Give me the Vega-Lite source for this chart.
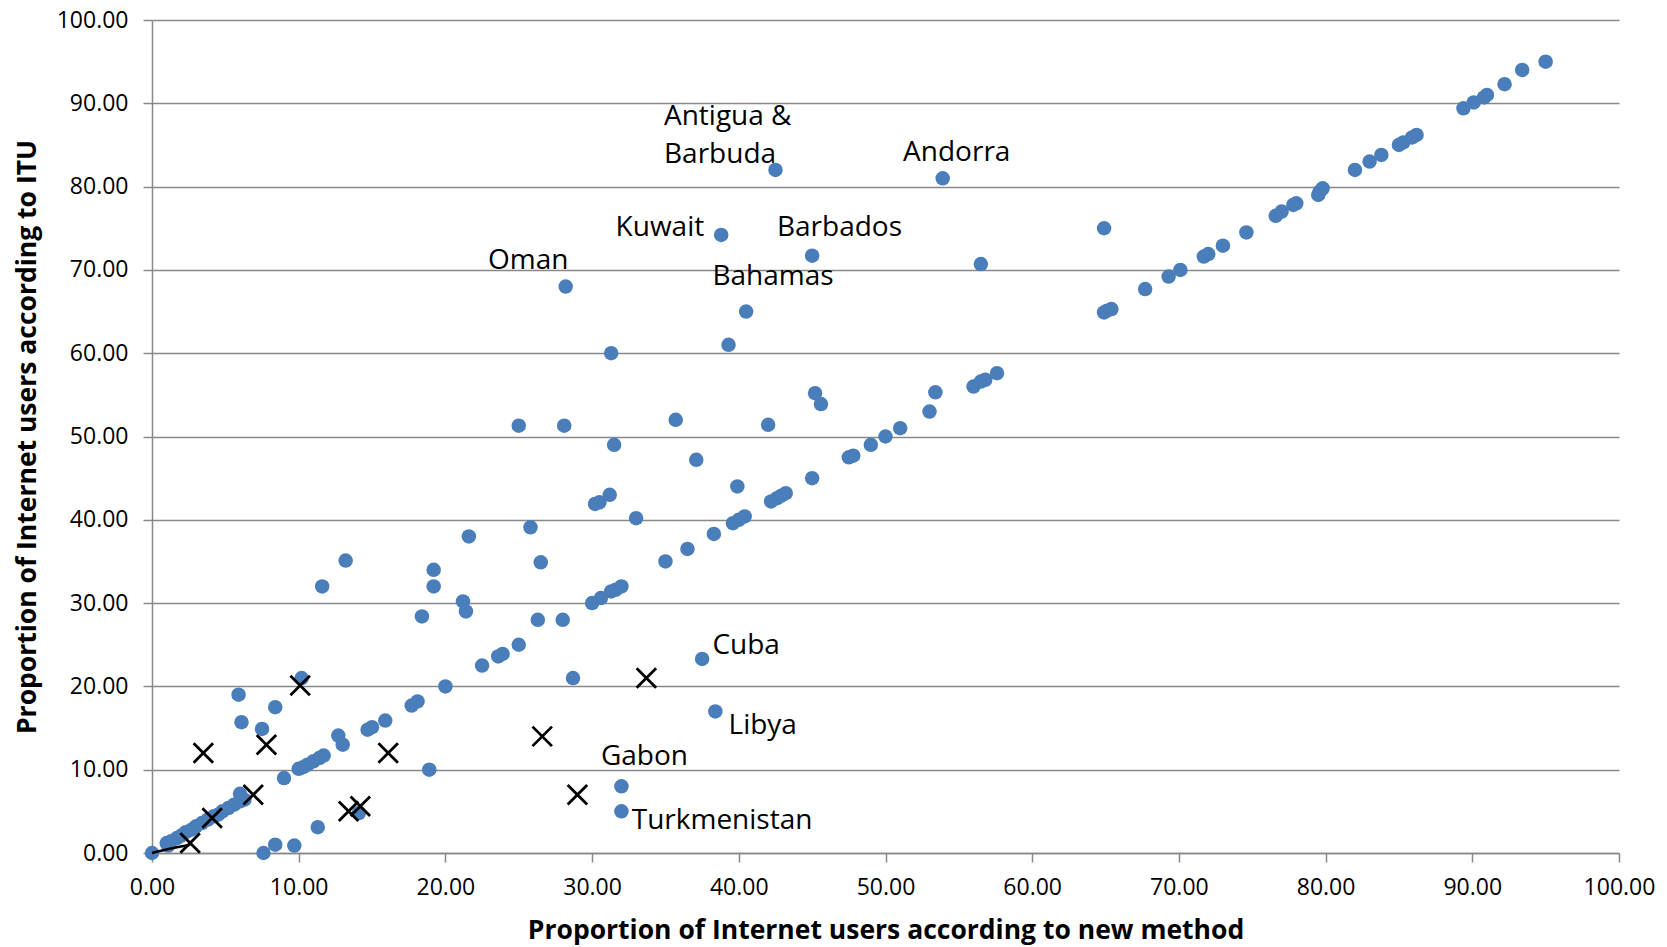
{
  "$schema": "https://vega.github.io/schema/vega-lite/v6.json",
  "width": 1467,
  "height": 833,
  "autosize": {"type": "none"},
  "padding": {"left": 152, "top": 20, "right": 48, "bottom": 94},
  "background": "white",
  "config": {
    "view": {"stroke": null},
    "font": "Open Sans",
    "axis": {
      "labelFont": "Open Sans",
      "labelFontSize": 23,
      "labelColor": "#000000",
      "titleFont": "Open Sans",
      "titleFontSize": 26.5,
      "titleFontWeight": "bold",
      "titleColor": "#000000",
      "domainColor": "#898989",
      "domainWidth": 1.5,
      "tickColor": "#898989",
      "tickWidth": 1.5,
      "tickSize": 9,
      "gridColor": "#898989",
      "gridWidth": 1.5,
      "labelOverlap": false,
      "labelFlush": false
    }
  },
  "datasets": {
    "points": [
      {"x": 95.0, "y": 95.0, "s": "c"},
      {"x": 93.4, "y": 94.0, "s": "c"},
      {"x": 92.2, "y": 92.3, "s": "c"},
      {"x": 91.0, "y": 91.0, "s": "c"},
      {"x": 90.8, "y": 90.7, "s": "c"},
      {"x": 90.1, "y": 90.1, "s": "c"},
      {"x": 89.4, "y": 89.4, "s": "c"},
      {"x": 86.2, "y": 86.2, "s": "c"},
      {"x": 85.9, "y": 85.9, "s": "c"},
      {"x": 85.3, "y": 85.3, "s": "c"},
      {"x": 85.0, "y": 85.0, "s": "c"},
      {"x": 83.8, "y": 83.8, "s": "c"},
      {"x": 83.0, "y": 83.0, "s": "c"},
      {"x": 82.0, "y": 82.0, "s": "c"},
      {"x": 79.8, "y": 79.8, "s": "c"},
      {"x": 79.5, "y": 79.0, "s": "c"},
      {"x": 79.6, "y": 79.4, "s": "c"},
      {"x": 78.0, "y": 78.0, "s": "c"},
      {"x": 77.8, "y": 77.8, "s": "c"},
      {"x": 77.0, "y": 77.0, "s": "c"},
      {"x": 76.6, "y": 76.5, "s": "c"},
      {"x": 74.6, "y": 74.5, "s": "c"},
      {"x": 73.0, "y": 72.9, "s": "c"},
      {"x": 72.0, "y": 71.9, "s": "c"},
      {"x": 71.7, "y": 71.6, "s": "c"},
      {"x": 70.1, "y": 70.0, "s": "c"},
      {"x": 69.3, "y": 69.2, "s": "c"},
      {"x": 67.7, "y": 67.7, "s": "c"},
      {"x": 65.4, "y": 65.3, "s": "c"},
      {"x": 65.1, "y": 65.1, "s": "c"},
      {"x": 64.9, "y": 64.9, "s": "c"},
      {"x": 64.9, "y": 75.0, "s": "c"},
      {"x": 56.5, "y": 70.7, "s": "c"},
      {"x": 57.6, "y": 57.6, "s": "c"},
      {"x": 56.8, "y": 56.8, "s": "c"},
      {"x": 56.5, "y": 56.6, "s": "c"},
      {"x": 56.0, "y": 56.0, "s": "c"},
      {"x": 53.4, "y": 55.3, "s": "c"},
      {"x": 53.0, "y": 53.0, "s": "c"},
      {"x": 51.0, "y": 51.0, "s": "c"},
      {"x": 50.0, "y": 50.0, "s": "c"},
      {"x": 49.0, "y": 49.0, "s": "c"},
      {"x": 47.8, "y": 47.7, "s": "c"},
      {"x": 47.5, "y": 47.5, "s": "c"},
      {"x": 45.0, "y": 45.0, "s": "c"},
      {"x": 43.2, "y": 43.2, "s": "c"},
      {"x": 42.9, "y": 42.9, "s": "c"},
      {"x": 42.6, "y": 42.6, "s": "c"},
      {"x": 42.2, "y": 42.2, "s": "c"},
      {"x": 40.4, "y": 40.4, "s": "c"},
      {"x": 40.0, "y": 40.0, "s": "c"},
      {"x": 39.6, "y": 39.6, "s": "c"},
      {"x": 38.3, "y": 38.3, "s": "c"},
      {"x": 36.5, "y": 36.5, "s": "c"},
      {"x": 35.0, "y": 35.0, "s": "c"},
      {"x": 32.0, "y": 32.0, "s": "c"},
      {"x": 31.6, "y": 31.6, "s": "c"},
      {"x": 31.3, "y": 31.4, "s": "c"},
      {"x": 30.6, "y": 30.6, "s": "c"},
      {"x": 30.0, "y": 30.0, "s": "c"},
      {"x": 28.0, "y": 28.0, "s": "c"},
      {"x": 26.3, "y": 28.0, "s": "c"},
      {"x": 25.0, "y": 25.0, "s": "c"},
      {"x": 23.9, "y": 23.9, "s": "c"},
      {"x": 23.6, "y": 23.6, "s": "c"},
      {"x": 22.5, "y": 22.5, "s": "c"},
      {"x": 20.0, "y": 20.0, "s": "c"},
      {"x": 18.1, "y": 18.2, "s": "c"},
      {"x": 17.7, "y": 17.7, "s": "c"},
      {"x": 15.9, "y": 15.9, "s": "c"},
      {"x": 15.0, "y": 15.1, "s": "c"},
      {"x": 14.7, "y": 14.8, "s": "c"},
      {"x": 13.0, "y": 13.0, "s": "c"},
      {"x": 12.7, "y": 14.1, "s": "c"},
      {"x": 11.7, "y": 11.7, "s": "c"},
      {"x": 11.4, "y": 11.4, "s": "c"},
      {"x": 11.0, "y": 11.0, "s": "c"},
      {"x": 10.6, "y": 10.6, "s": "c"},
      {"x": 10.3, "y": 10.3, "s": "c"},
      {"x": 10.0, "y": 10.1, "s": "c"},
      {"x": 9.0, "y": 9.0, "s": "c"},
      {"x": 6.3, "y": 6.4, "s": "c"},
      {"x": 6.0, "y": 7.1, "s": "c"},
      {"x": 6.0, "y": 6.2, "s": "c"},
      {"x": 5.6, "y": 5.8, "s": "c"},
      {"x": 5.2, "y": 5.4, "s": "c"},
      {"x": 4.8, "y": 5.0, "s": "c"},
      {"x": 4.5, "y": 4.6, "s": "c"},
      {"x": 4.2, "y": 4.4, "s": "c"},
      {"x": 3.8, "y": 4.0, "s": "c"},
      {"x": 3.4, "y": 3.6, "s": "c"},
      {"x": 3.0, "y": 3.2, "s": "c"},
      {"x": 2.7, "y": 2.8, "s": "c"},
      {"x": 2.3, "y": 2.5, "s": "c"},
      {"x": 2.0, "y": 2.1, "s": "c"},
      {"x": 1.7, "y": 1.8, "s": "c"},
      {"x": 1.3, "y": 1.4, "s": "c"},
      {"x": 1.0, "y": 1.2, "s": "c"},
      {"x": 1.1, "y": 0.9, "s": "c"},
      {"x": 0.0, "y": 0.0, "s": "c"},
      {"x": 42.5, "y": 82.0, "s": "c"},
      {"x": 53.9, "y": 81.0, "s": "c"},
      {"x": 38.8, "y": 74.2, "s": "c"},
      {"x": 45.0, "y": 71.7, "s": "c"},
      {"x": 28.2, "y": 68.0, "s": "c"},
      {"x": 40.5, "y": 65.0, "s": "c"},
      {"x": 39.3, "y": 61.0, "s": "c"},
      {"x": 31.3, "y": 60.0, "s": "c"},
      {"x": 25.0, "y": 51.3, "s": "c"},
      {"x": 28.1, "y": 51.3, "s": "c"},
      {"x": 35.7, "y": 52.0, "s": "c"},
      {"x": 42.0, "y": 51.4, "s": "c"},
      {"x": 45.2, "y": 55.2, "s": "c"},
      {"x": 45.6, "y": 53.9, "s": "c"},
      {"x": 37.1, "y": 47.2, "s": "c"},
      {"x": 31.5, "y": 49.0, "s": "c"},
      {"x": 39.9, "y": 44.0, "s": "c"},
      {"x": 31.2, "y": 43.0, "s": "c"},
      {"x": 30.5, "y": 42.1, "s": "c"},
      {"x": 30.2, "y": 41.9, "s": "c"},
      {"x": 33.0, "y": 40.2, "s": "c"},
      {"x": 25.8, "y": 39.1, "s": "c"},
      {"x": 21.6, "y": 38.0, "s": "c"},
      {"x": 26.5, "y": 34.9, "s": "c"},
      {"x": 13.2, "y": 35.1, "s": "c"},
      {"x": 19.2, "y": 34.0, "s": "c"},
      {"x": 19.2, "y": 32.0, "s": "c"},
      {"x": 11.6, "y": 32.0, "s": "c"},
      {"x": 21.2, "y": 30.2, "s": "c"},
      {"x": 21.4, "y": 29.0, "s": "c"},
      {"x": 18.4, "y": 28.4, "s": "c"},
      {"x": 28.7, "y": 21.0, "s": "c"},
      {"x": 37.5, "y": 23.3, "s": "c"},
      {"x": 38.4, "y": 17.0, "s": "c"},
      {"x": 32.0, "y": 8.0, "s": "c"},
      {"x": 32.0, "y": 5.0, "s": "c"},
      {"x": 18.9, "y": 10.0, "s": "c"},
      {"x": 10.2, "y": 21.0, "s": "c"},
      {"x": 5.9, "y": 19.0, "s": "c"},
      {"x": 8.4, "y": 17.5, "s": "c"},
      {"x": 6.1, "y": 15.7, "s": "c"},
      {"x": 7.5, "y": 14.9, "s": "c"},
      {"x": 11.3, "y": 3.1, "s": "c"},
      {"x": 7.6, "y": 0.0, "s": "c"},
      {"x": 8.4, "y": 1.0, "s": "c"},
      {"x": 9.7, "y": 0.9, "s": "c"},
      {"x": 14.1, "y": 4.8, "s": "c"},
      {"x": 2.6, "y": 1.2, "s": "x"},
      {"x": 4.1, "y": 4.2, "s": "x"},
      {"x": 3.5, "y": 12.0, "s": "x"},
      {"x": 6.9, "y": 7.0, "s": "x"},
      {"x": 7.8, "y": 13.0, "s": "x"},
      {"x": 10.1, "y": 20.1, "s": "x"},
      {"x": 16.1, "y": 12.0, "s": "x"},
      {"x": 13.4, "y": 5.0, "s": "x"},
      {"x": 14.2, "y": 5.6, "s": "x"},
      {"x": 26.6, "y": 14.0, "s": "x"},
      {"x": 29.0, "y": 7.0, "s": "x"},
      {"x": 33.7, "y": 21.0, "s": "x"}
    ],
    "segment": [
      {"x": 0.0, "y": 0.0},
      {"x": 1.2, "y": 0.5},
      {"x": 2.6, "y": 1.0}
    ],
    "labels": [
      {"label": "Antigua &", "lx": 34.9, "ly": 88.4},
      {"label": "Barbuda", "lx": 34.9, "ly": 83.8},
      {"label": "Andorra", "lx": 51.2, "ly": 84.0},
      {"label": "Kuwait", "lx": 31.6, "ly": 75.0},
      {"label": "Barbados", "lx": 42.6, "ly": 75.0},
      {"label": "Oman", "lx": 22.9, "ly": 71.1},
      {"label": "Bahamas", "lx": 38.2, "ly": 69.1},
      {"label": "Cuba", "lx": 38.2, "ly": 24.9},
      {"label": "Libya", "lx": 39.3, "ly": 15.3},
      {"label": "Gabon", "lx": 30.6, "ly": 11.5},
      {"label": "Turkmenistan", "lx": 32.7, "ly": 3.8}
    ]
  },
  "layer": [
    {
      "data": {"name": "points"},
      "transform": [{"filter": "datum.s === 'c'"}],
      "mark": {"type": "circle", "size": 210, "color": "#4a7ebb", "opacity": 1},
      "encoding": {
        "x": {
          "field": "x", "type": "quantitative",
          "scale": {"domain": [0, 100], "nice": false, "zero": false},
          "axis": {
            "values": [0, 10, 20, 30, 40, 50, 60, 70, 80, 90, 100],
            "format": ".2f",
            "grid": false,
            "labelPadding": 14,
            "title": "Proportion of Internet users according to new method",
            "titleY": 77,
            "titleBaseline": "middle"
          }
        },
        "y": {
          "field": "y", "type": "quantitative",
          "scale": {"domain": [0, 100], "nice": false, "zero": false},
          "axis": {
            "values": [0, 10, 20, 30, 40, 50, 60, 70, 80, 90, 100],
            "format": ".2f",
            "grid": true,
            "labelPadding": 15,
            "title": "Proportion of Internet users according to ITU",
            "titleX": -125,
            "titleBaseline": "middle"
          }
        }
      }
    },
    {
      "data": {"name": "segment"},
      "mark": {"type": "line", "color": "#000000", "strokeWidth": 2.5, "interpolate": "monotone"},
      "encoding": {
        "x": {"field": "x", "type": "quantitative"},
        "y": {"field": "y", "type": "quantitative"}
      }
    },
    {
      "data": {"name": "points"},
      "transform": [{"filter": "datum.s === 'x'"}],
      "mark": {"type": "point", "shape": "M-1,-1L1,1M-1,1L1,-1", "size": 380, "filled": false, "stroke": "#000000", "strokeWidth": 2.8, "opacity": 1},
      "encoding": {
        "x": {"field": "x", "type": "quantitative"},
        "y": {"field": "y", "type": "quantitative"}
      }
    },
    {
      "data": {"name": "labels"},
      "mark": {"type": "text", "align": "left", "baseline": "middle", "font": "Open Sans", "fontSize": 28, "color": "#000000"},
      "encoding": {
        "x": {"field": "lx", "type": "quantitative"},
        "y": {"field": "ly", "type": "quantitative"},
        "text": {"field": "label"}
      }
    }
  ]
}
